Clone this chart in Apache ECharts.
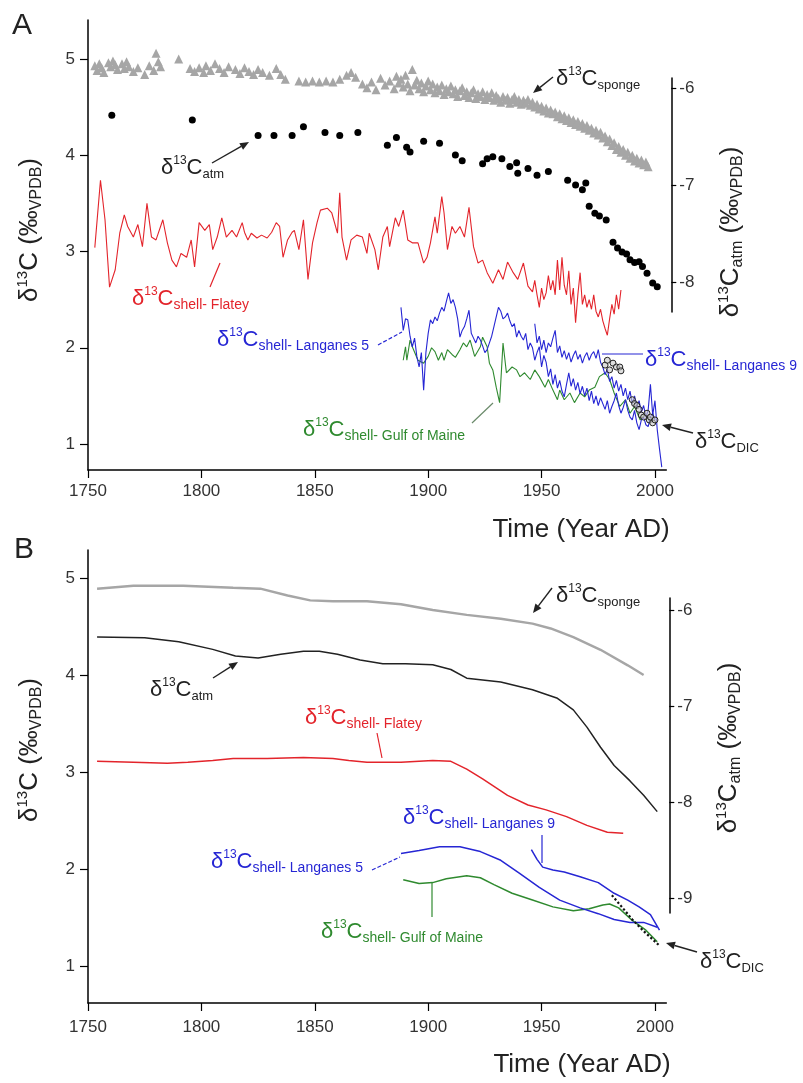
<!DOCTYPE html>
<html><head><meta charset="utf-8">
<script src="https://cdn.jsdelivr.net/npm/echarts@6/dist/echarts.min.js"></script>
<style>html,body{margin:0;padding:0;background:#fff}#c{width:803px;height:1083px}</style>
</head><body><div id="c"></div>
<script>
// ---------- tick labels ----------
const xTicks = [1750, 1800, 1850, 1900, 1950, 2000];
const yTicksLeft = [1, 2, 3, 4, 5];
const yTicksAtmA = [-8, -7, -6];
const yTicksAtmB = [-9, -8, -7, -6];

// ---------- Panel A data [year, value] ----------
const spongeA = [
[1753,4.93],[1754,4.88],[1755,4.95],[1756,4.91],[1757,4.86],[1759,4.96],[1760,4.92],[1761,4.98],[1762,4.94],[1763,4.89],
[1765,4.95],[1766,4.90],[1767,4.97],[1768,4.92],[1770,4.87],[1772,4.91],[1775,4.84],[1777,4.93],[1779,4.88],[1780,5.06],
[1781,4.97],[1782,4.92],[1790,5.00],[1795,4.90],[1797,4.87],[1799,4.91],[1801,4.86],[1802,4.93],[1804,4.88],[1806,4.95],
[1808,4.90],[1810,4.86],[1812,4.92],[1815,4.89],[1817,4.85],[1819,4.91],[1821,4.87],[1823,4.84],[1825,4.89],[1827,4.86],
[1830,4.83],[1833,4.90],[1835,4.84],[1837,4.79],[1843,4.77],[1846,4.76],[1849,4.77],[1852,4.76],[1855,4.77],[1858,4.76],
[1861,4.79],[1864,4.83],[1866,4.86],[1868,4.81],[1871,4.74],[1873,4.70],[1875,4.76],[1877,4.68],[1879,4.80],[1881,4.73],
[1883,4.77],[1885,4.69],[1886,4.82],[1887,4.75],[1888,4.79],[1889,4.71],[1890,4.83],[1891,4.74],[1892,4.67],[1893,4.89],
[1894,4.73],[1895,4.78],[1896,4.69],[1897,4.75],[1898,4.66],[1899,4.72],[1900,4.77],[1901,4.68],[1902,4.74],[1903,4.65],
[1904,4.71],[1905,4.67],[1906,4.73],[1907,4.63],[1908,4.69],[1909,4.66],[1910,4.72],[1911,4.64],[1912,4.68],[1913,4.61],
[1914,4.67],[1915,4.70],[1916,4.62],[1917,4.66],[1918,4.60],[1919,4.65],[1920,4.68],[1921,4.59],[1922,4.64],[1923,4.61],
[1924,4.66],[1925,4.58],[1926,4.63],[1927,4.60],[1928,4.65],[1929,4.57],[1930,4.62],[1931,4.59],[1932,4.55],[1933,4.61],
[1934,4.57],[1935,4.60],[1936,4.54],[1937,4.58],[1938,4.61],[1939,4.55],[1940,4.58],[1941,4.53],[1942,4.57],[1943,4.54],
[1944,4.58],[1945,4.52],[1946,4.55],[1947,4.50],[1948,4.53],[1949,4.48],[1950,4.51],[1951,4.46],[1952,4.49],[1953,4.44],
[1954,4.47],[1955,4.43],[1956,4.45],[1957,4.40],[1958,4.43],[1959,4.38],[1960,4.41],[1961,4.36],[1962,4.39],[1963,4.34],
[1964,4.37],[1965,4.32],[1966,4.35],[1967,4.30],[1968,4.33],[1969,4.28],[1970,4.31],[1971,4.26],[1972,4.28],[1973,4.23],
[1974,4.26],[1975,4.21],[1976,4.24],[1977,4.18],[1978,4.20],[1979,4.14],[1980,4.17],[1981,4.10],[1982,4.13],[1983,4.06],
[1984,4.09],[1985,4.03],[1986,4.06],[1987,4.00],[1988,4.03],[1989,3.97],[1990,4.00],[1991,3.94],[1992,3.97],[1993,3.92],
[1994,3.95],[1995,3.90],[1996,3.93],[1997,3.88]
];
const atmA = [
[1760.5,-6.28],[1796,-6.33],[1825,-6.49],[1832,-6.49],[1840,-6.49],[1845,-6.40],[1854.5,-6.46],[1861,-6.49],[1869,-6.46],
[1882,-6.59],[1886,-6.51],[1890.5,-6.61],[1892,-6.66],[1898,-6.55],[1905,-6.57],[1912,-6.69],[1915,-6.75],[1924,-6.78],
[1926,-6.73],[1928.5,-6.71],[1932.5,-6.73],[1936,-6.81],[1939,-6.77],[1939.5,-6.88],[1944,-6.83],[1948,-6.90],[1953,-6.86],
[1961.5,-6.95],[1965,-7.00],[1968,-7.05],[1969.5,-6.98],[1971,-7.22],[1973.5,-7.29],[1975.5,-7.32],[1978.5,-7.36],
[1981.5,-7.59],[1983.5,-7.65],[1985.5,-7.69],[1987.5,-7.71],[1989,-7.77],[1991,-7.80],[1993,-7.79],[1994.5,-7.84],
[1996.5,-7.91],[1999,-8.01],[2001,-8.05]
];
const flateyA = [
[1753,3.04],[1755.5,3.74],[1757.5,3.33],[1759.5,2.63],[1762,2.81],[1764,3.19],[1766,3.38],[1767.5,3.26],[1770,3.15],
[1772,3.28],[1774,3.05],[1776,3.50],[1778,3.15],[1780,3.12],[1783,3.33],[1785,3.09],[1787,2.91],[1789,2.84],[1791,2.98],
[1793.5,2.94],[1795.5,3.12],[1797,2.84],[1799,3.30],[1801.5,3.22],[1803.5,3.28],[1805,3.02],[1807,3.15],[1809,3.35],
[1811,3.15],[1813.5,3.22],[1815.5,3.15],[1818,3.30],[1819,3.20],[1820.5,3.12],[1822,3.19],[1824.5,3.14],[1826.5,3.17],
[1829,3.14],[1831,3.20],[1833,3.30],[1834.5,3.26],[1836,2.94],[1838,3.12],[1840,3.20],[1841,3.22],[1843,3.02],[1845,3.33],
[1847,2.71],[1849,3.09],[1851,3.30],[1852.5,3.43],[1855.5,3.45],[1857.5,3.40],[1860,3.19],[1861,3.61],[1862,3.15],
[1864,2.91],[1866,3.12],[1868.5,3.17],[1871,3.15],[1873,2.98],[1874,3.19],[1876.5,3.02],[1878,2.81],[1880,3.15],
[1882,3.26],[1883,3.05],[1885.5,3.35],[1887,3.26],[1889,3.43],[1891,3.12],[1893,3.09],[1895.5,3.09],[1898,2.88],
[1899.5,2.94],[1901,3.09],[1903,3.36],[1904,3.19],[1906,3.57],[1907,3.40],[1908.5,3.02],[1910.5,3.26],[1912,3.19],
[1914,3.26],[1916,3.15],[1918,3.46],[1920,3.05],[1922,2.88],[1924,2.91],[1926,2.78],[1928.5,2.67],[1931,2.81],[1933,2.71],
[1935,2.89],[1937.5,2.78],[1939.5,2.71],[1942,2.88],[1944,2.64],[1946,2.58],[1947,2.70],[1948,2.55],[1949,2.42],[1950,2.62],
[1951,2.50],[1952,2.57],[1953,2.75],[1954,2.60],[1955,2.70],[1956,2.55],[1957,2.91],[1958,2.60],[1959,2.94],[1960,2.65],
[1961,2.55],[1962,2.80],[1963,2.45],[1964,2.62],[1965,2.26],[1966,2.55],[1967,2.78],[1968,2.45],[1969,2.55],[1970,2.42],
[1971,2.50],[1972,2.40],[1973,2.55],[1974,2.38],[1975,2.32],[1976,2.40],[1977,2.28],[1978,2.20],[1979,2.13],[1980,2.30],
[1981,2.45],[1982,2.35],[1983,2.55],[1984,2.40],[1985,2.60]
];
const langanes5A = [
[1888,2.42],[1889,2.18],[1890,2.30],[1891,2.29],[1892,2.12],[1893,2.01],[1894,2.10],[1895,1.91],[1896,1.80],[1897,1.95],
[1898,1.56],[1899,1.95],[1900,2.15],[1901,2.29],[1902,2.25],[1903,2.32],[1904,2.28],[1905,2.36],[1906,2.42],[1907,2.38],
[1908,2.48],[1909,2.57],[1910,2.46],[1911,2.50],[1912,2.42],[1913,2.30],[1914,2.11],[1915,2.18],[1916,2.22],[1917,2.30],
[1918,2.39],[1919,2.15],[1920,2.10],[1921,2.05],[1922,2.12],[1923,2.08],[1924,2.02],[1925,1.95],[1926,1.98],[1927,2.05],
[1928,2.12],[1929,2.22],[1930,2.32],[1931,2.42],[1932,2.38],[1933,2.30],[1934,2.32],[1935,2.36],[1936,2.28],[1937,2.22],
[1938,2.25],[1939,2.11],[1940,2.18],[1941,2.12],[1942,2.08],[1943,2.15],[1944,1.98],[1945,2.05],[1946,2.00],[1947,1.87],
[1948,1.95],[1949,2.01],[1950,1.80],[1951,1.92],[1952,1.85],[1953,1.70],[1954,1.78],[1955,1.62],[1956,1.72],[1957,1.58],
[1958,1.66],[1959,1.55],[1960,1.49],[1961,1.62],[1962,1.74],[1963,1.60],[1964,1.68],[1965,1.56],[1966,1.64],[1967,1.52],
[1968,1.60],[1969,1.50],[1970,1.58],[1971,1.45],[1972,1.55],[1973,1.42],[1974,1.50],[1975,1.40],[1976,1.48],[1977,1.42],
[1978,1.36],[1979,1.45],[1980,1.32],[1981,1.39],[1982,1.45],[1983,1.53],[1984,1.40],[1985,1.32],[1986,1.38],[1987,1.46],
[1988,1.35],[1989,1.28],[1990,1.25],[1991,1.35],[1992,1.22],[1993,1.15],[1994,1.25],[1995,1.28],[1996,1.20],[1997,1.18],
[1998,1.28],[1999,1.32],[2000,1.25]
];
const langanes9A = [
[1947,2.25],[1948,2.05],[1949,2.12],[1950,1.98],[1951,2.08],[1952,1.95],[1953,2.05],[1954,2.01],[1955,2.10],[1956,2.18],
[1957,1.95],[1958,2.02],[1959,1.90],[1960,1.97],[1961,1.88],[1962,1.95],[1963,1.85],[1964,1.92],[1965,1.97],[1966,1.88],
[1967,1.93],[1968,1.84],[1969,1.91],[1970,1.95],[1971,1.87],[1972,1.93],[1973,1.96],[1974,1.89],[1975,1.98],[1976,1.85],
[1977,1.80],[1978,1.72],[1979,1.78],[1980,1.65],[1981,1.70],[1982,1.58],[1983,1.66],[1984,1.55],[1985,1.62],[1986,1.50],
[1987,1.58],[1988,1.46],[1989,1.55],[1990,1.42],[1991,1.50],[1992,1.38],[1993,1.45],[1994,1.33],[1995,1.40],[1996,1.28],
[1997,1.35],[1998,1.62],[1999,1.30],[2000,1.45],[2001,1.15],[2002,0.95],[2003,0.76]
];
const gulfA = [
[1889,1.87],[1890,2.01],[1890.6,1.87],[1892,2.08],[1893,2.01],[1895.5,1.87],[1898,1.84],[1900,1.91],[1901.5,2.00],
[1903,1.96],[1904.5,1.87],[1906,1.95],[1907,1.87],[1908.5,1.98],[1910.5,1.93],[1912,1.90],[1914,1.98],[1915.5,2.05],
[1917,2.01],[1918.5,2.08],[1920.5,1.91],[1923,2.01],[1924,2.11],[1926,2.01],[1927,1.84],[1928.5,1.77],[1930,1.59],
[1931.5,1.43],[1933,2.05],[1934.5,1.74],[1937,1.80],[1939,1.77],[1940.5,1.70],[1942.5,1.74],[1945,1.67],[1947,1.77],
[1949,1.70],[1951.5,1.59],[1953,1.67],[1955,1.56],[1957,1.46],[1958,1.56],[1960,1.46],[1962.5,1.53],[1964.5,1.43],
[1967,1.53],[1969,1.49],[1971,1.56],[1973.5,1.59],[1975.5,1.70],[1978,1.74],[1980,1.67],[1982,1.53],[1984.5,1.39],
[1987,1.46],[1989,1.32],[1991,1.39],[1993.5,1.25],[1995.5,1.32],[1998,1.22]
];
const dicA = [
[1978,1.82],[1979,1.87],[1980,1.77],[1981.5,1.84],[1983,1.80],[1984.5,1.80],[1985,1.76],[1990,1.46],[1991,1.42],
[1992,1.40],[1993,1.36],[1994,1.30],[1995,1.28],[1996.5,1.32],[1997.5,1.25],[1998,1.28],[1999,1.22],[2000,1.25]
];

// ---------- Panel B data (smoothed) ----------
const spongeB = [
[1754,4.89],[1770,4.92],[1792,4.92],[1814,4.90],[1826,4.89],[1838,4.82],[1848,4.77],[1858,4.76],[1873,4.76],[1888,4.73],
[1902,4.67],[1917,4.62],[1932,4.58],[1946,4.53],[1954,4.48],[1964,4.39],[1976,4.26],[1988,4.10],[1995,4.00]
];
const atmB = [
[1754,-6.28],[1775,-6.29],[1790,-6.33],[1805,-6.41],[1815,-6.48],[1825,-6.50],[1835,-6.46],[1845,-6.43],[1852,-6.43],
[1860,-6.46],[1870,-6.52],[1880,-6.56],[1890,-6.56],[1902,-6.57],[1910,-6.62],[1917,-6.71],[1932,-6.75],[1946,-6.83],
[1957,-6.92],[1964,-7.04],[1970,-7.22],[1976,-7.43],[1982,-7.62],[1989,-7.78],[1995,-7.93],[2001,-8.10]
];
const flateyB = [
[1754,3.11],[1770,3.10],[1785,3.09],[1794,3.10],[1805,3.12],[1814,3.14],[1829,3.14],[1845,3.15],[1858,3.14],[1865,3.12],
[1873,3.10],[1888,3.10],[1902,3.12],[1910,3.11],[1917,3.03],[1924,2.93],[1935,2.76],[1944,2.66],[1952,2.61],[1961,2.54],
[1970,2.45],[1979,2.38],[1986,2.37]
];
const langanes5B = [
[1888,2.16],[1896,2.19],[1905,2.23],[1914,2.23],[1923,2.18],[1932,2.09],[1940,1.96],[1949,1.81],[1958,1.68],[1967,1.60],
[1975,1.54],[1982,1.48],[1989,1.45],[1995,1.45],[2001,1.40]
];
const langanes9B = [
[1945.5,2.20],[1948,2.10],[1950.5,2.02],[1955,1.99],[1960,1.97],[1967,1.92],[1975,1.86],[1982,1.75],[1988,1.68],
[1993,1.61],[1998,1.53],[2002,1.37]
];
const gulfB = [
[1889,1.89],[1896,1.85],[1902,1.86],[1908,1.90],[1917,1.93],[1923,1.91],[1929,1.84],[1937,1.75],[1946,1.68],[1955,1.61],
[1964,1.57],[1971,1.59],[1977,1.63],[1980,1.64],[1984,1.60],[1990,1.47],[1996,1.37],[2001,1.25]
];
const dicB = [[1981,1.73],[1985,1.62],[1990,1.48],[1995,1.36],[2002,1.21]];

// ---------- chart ----------
const FONT = '"Liberation Sans", Arial, sans-serif';
const GL = 88, GW = 578.3;
const TXT = '#333';
const fmt = function (v) { return String(v); };

function xAxis(gi, show, margin) {
  return {
    type: 'value', gridIndex: gi, min: 1750, max: 2005, show: show,
    axisLine: { show: true, onZero: false, lineStyle: { color: '#000', width: 1.5 } },
    axisTick: { show: true, length: 8, customValues: xTicks, lineStyle: { color: '#000', width: 1.2 } },
    axisLabel: { customValues: xTicks, formatter: fmt, margin: margin, fontSize: 17, color: TXT, fontFamily: FONT },
    splitLine: { show: false }
  };
}
function yAxis(gi, pos, min, max, ticks, offset, margin, tickLen) {
  return {
    type: 'value', gridIndex: gi, position: pos, offset: offset || 0, min: min, max: max,
    axisLine: { show: true, onZero: false, lineStyle: { color: '#000', width: 1.5 } },
    axisTick: { show: true, length: tickLen, customValues: ticks, lineStyle: { color: '#000', width: 1.2 } },
    axisLabel: { customValues: ticks, formatter: fmt, margin: margin, fontSize: 17, color: TXT, fontFamily: FONT },
    splitLine: { show: false }
  };
}

function dlabel(x, y, sub, color, m, s) {
  m = m || 22; s = s || 13;
  const u = Math.round(m * 0.55);
  return {
    type: 'text', x: x, y: y, z: 100,
    style: {
      text: '{d|δ}{u|13}{d|C}{b|' + sub + '}',
      fill: color, align: 'left', verticalAlign: 'middle', font: m + 'px ' + FONT,
      rich: {
        d: { fontSize: m, fontFamily: FONT, lineHeight: m + 4, fill: color },
        u: { fontSize: u, fontFamily: FONT, lineHeight: u + 2, verticalAlign: 'top', fill: color },
        b: { fontSize: s, fontFamily: FONT, lineHeight: s + 1, verticalAlign: 'bottom', fill: color }
      }
    }
  };
}
function axisTitle(x, y, sub) {
  const m = 26;
  return {
    type: 'text', x: x, y: y, rotation: Math.PI / 2, z: 100,
    style: {
      text: '{d|δ}{u|13}{d|C}' + (sub ? '{b|' + sub + '}' : '') + '{d| (‰}{b|VPDB}{d|)}',
      fill: '#222', align: 'center', verticalAlign: 'middle', font: m + 'px ' + FONT,
      rich: {
        d: { fontSize: m, fontFamily: FONT, lineHeight: m + 4, fill: '#222' },
        u: { fontSize: 15, fontFamily: FONT, lineHeight: 16, verticalAlign: 'top', fill: '#222' },
        b: { fontSize: 16, fontFamily: FONT, lineHeight: 17, verticalAlign: 'bottom', fill: '#222' }
      }
    }
  };
}
function plain(x, y, text, size, align) {
  return { type: 'text', x: x, y: y, z: 100,
    style: { text: text, fill: '#222', font: size + 'px ' + FONT, align: align || 'left', verticalAlign: 'middle' } };
}
function arrow(x1, y1, x2, y2, color) {
  const a = Math.atan2(y2 - y1, x2 - x1), L = 9, W = 3.8;
  const bx = x2 - L * Math.cos(a), by = y2 - L * Math.sin(a);
  const px = -Math.sin(a) * W, py = Math.cos(a) * W;
  return [
    { type: 'line', z: 100, shape: { x1: x1, y1: y1, x2: bx, y2: by }, style: { stroke: color, lineWidth: 1.4 } },
    { type: 'polygon', z: 100, shape: { points: [[x2, y2], [bx + px, by + py], [bx - px, by - py]] }, style: { fill: color } }
  ];
}
function leader(x1, y1, x2, y2, color, dashed) {
  return { type: 'line', z: 100, shape: { x1: x1, y1: y1, x2: x2, y2: y2 },
    style: { stroke: color, lineWidth: 1.2, lineDash: dashed ? [4, 2] : null } };
}

const RED = '#e3242b', BLUE = '#2626d4', GREEN = '#2f8a2f', GRAY = '#a6a6a6';

const elements = [
  plain(12, 26, 'A', 30), plain(14, 550, 'B', 30),
  plain(581, 530, 'Time (Year AD)', 26, 'center'),
  plain(582, 1065, 'Time (Year AD)', 26, 'center'),
  axisTitle(30, 230, null), axisTitle(731, 232, 'atm'),
  axisTitle(30, 750, null), axisTitle(729, 748, 'atm'),
  // panel A annotations
  dlabel(556, 79, 'sponge', '#222'),
  dlabel(161, 168, 'atm', '#222'),
  dlabel(132, 299, 'shell- Flatey', RED, 22, 14),
  dlabel(217, 340, 'shell- Langanes 5', BLUE, 22, 14),
  dlabel(645, 360, 'shell- Langanes 9', BLUE, 22, 14),
  dlabel(303, 430, 'shell- Gulf of Maine', GREEN, 22, 14),
  dlabel(695, 442, 'DIC', '#222'),
  ...arrow(553, 77, 533, 93, '#222'),
  ...arrow(212, 163, 249, 142, '#222'),
  ...arrow(693, 433, 662, 425, '#222'),
  leader(210, 287, 220, 263, RED),
  leader(378, 345, 402, 332, BLUE, true),
  leader(602, 354, 643, 354, BLUE),
  leader(472, 423, 493, 403, '#6a8a6a'),
  // panel B annotations
  dlabel(556, 596, 'sponge', '#222'),
  dlabel(150, 690, 'atm', '#222'),
  dlabel(305, 718, 'shell- Flatey', RED, 22, 14),
  dlabel(403, 818, 'shell- Langanes 9', BLUE, 22, 14),
  dlabel(211, 862, 'shell- Langanes 5', BLUE, 22, 14),
  dlabel(321, 932, 'shell- Gulf of Maine', GREEN, 22, 14),
  dlabel(700, 962, 'DIC', '#222'),
  ...arrow(552, 588, 533, 613, '#222'),
  ...arrow(213, 678, 238, 662, '#222'),
  ...arrow(697, 952, 666, 943, '#222'),
  leader(377, 733, 382, 758, RED),
  leader(542, 835, 542, 863, BLUE),
  leader(372, 870, 400, 857, BLUE, true),
  leader(432, 883, 432, 917, GREEN)
];

function lineS(name, data, xi, yi, color, width, type) {
  return { name: name, type: 'line', data: data, xAxisIndex: xi, yAxisIndex: yi, showSymbol: false,
    lineStyle: { color: color, width: width, type: type || 'solid' }, itemStyle: { color: color }, silent: true, z: 3 };
}

const option = {
  animation: false,
  backgroundColor: '#fff',
  grid: [
    { left: GL, width: GW, top: 20, height: 450, containLabel: false, outerBoundsMode: 'none' },
    { left: GL, width: GW, top: 78, height: 234, containLabel: false, outerBoundsMode: 'none' },
    { left: GL, width: GW, top: 550, height: 453, containLabel: false, outerBoundsMode: 'none' },
    { left: GL, width: GW, top: 598, height: 315, containLabel: false, outerBoundsMode: 'none' }
  ],
  xAxis: [xAxis(0, true, 13), xAxis(1, false, 13), xAxis(2, true, 16), xAxis(3, false, 16)],
  yAxis: [
    yAxis(0, 'left', 0.73, 5.405, yTicksLeft, 0, 13, 8),
    yAxis(1, 'right', -8.309, -5.897, yTicksAtmA, 5, 8, 5),
    yAxis(2, 'left', 0.619, 5.289, yTicksLeft, 0, 13, 8),
    yAxis(3, 'right', -9.156, -5.875, yTicksAtmB, 3, 8, 5)
  ],
  series: [
    { name: 'sponge A', type: 'scatter', data: spongeA, xAxisIndex: 0, yAxisIndex: 0, symbol: 'triangle', symbolSize: 9,
      itemStyle: { color: GRAY, opacity: 1 }, silent: true, z: 2 },
    { name: 'atm A', type: 'scatter', data: atmA, xAxisIndex: 1, yAxisIndex: 1, symbol: 'circle', symbolSize: 7,
      itemStyle: { color: '#000', opacity: 1 }, silent: true, z: 2 },
    lineS('Flatey A', flateyA, 0, 0, RED, 1.1),
    lineS('Gulf A', gulfA, 0, 0, GREEN, 1.1),
    lineS('Langanes 5 A', langanes5A, 0, 0, BLUE, 1.1),
    lineS('Langanes 9 A', langanes9A, 0, 0, BLUE, 1.1),
    { name: 'DIC A', type: 'scatter', data: dicA, xAxisIndex: 0, yAxisIndex: 0, symbol: 'circle', symbolSize: 6,
      itemStyle: { color: 'rgba(200,200,200,0.6)', borderColor: '#222', borderWidth: 1, opacity: 1 }, silent: true, z: 4 },
    lineS('sponge B', spongeB, 2, 2, GRAY, 2.4),
    lineS('atm B', atmB, 3, 3, '#222', 1.5),
    lineS('Flatey B', flateyB, 2, 2, RED, 1.5),
    lineS('Gulf B', gulfB, 2, 2, GREEN, 1.5),
    lineS('Langanes 5 B', langanes5B, 2, 2, BLUE, 1.5),
    lineS('Langanes 9 B', langanes9B, 2, 2, BLUE, 1.5),
    lineS('DIC B', dicB, 2, 2, '#111', 2.2, 'dotted')
  ],
  graphic: { elements: elements }
};
const chart = echarts.init(document.getElementById('c'));
chart.setOption(option);
</script></body></html>
